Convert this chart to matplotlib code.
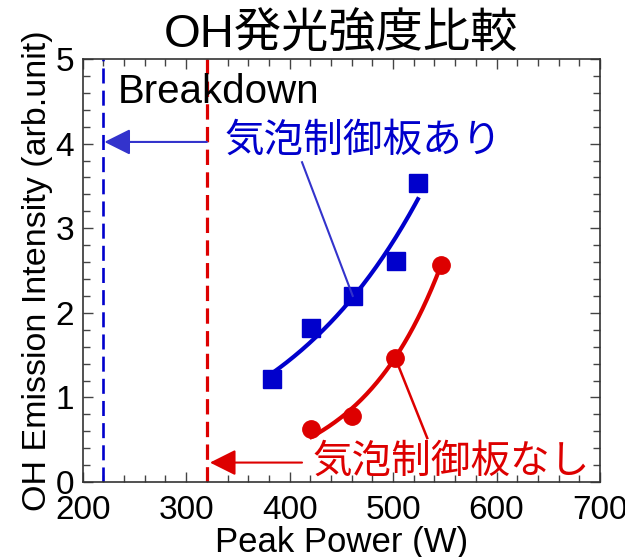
import numpy as np
import matplotlib
matplotlib.use("Agg")
import matplotlib.pyplot as plt
from matplotlib.ticker import MultipleLocator

# ---- data ----
power_with = [383, 421, 461, 503, 524]
oh_with = [1.22, 1.82, 2.20, 2.61, 3.53]
power_without = [421, 460, 502, 546]
oh_without = [0.63, 0.78, 1.47, 2.56]
breakdown_with = 220
breakdown_without = 320
xticks = [200, 300, 400, 500, 600, 700]
yticks = [0, 1, 2, 3, 4, 5]

title = "OH発光強度比較"
xlabel = "Peak Power (W)"
ylabel = "OH Emission Intensity (arb.unit)"
label_with = "気泡制御板あり"
label_without = "気泡制御板なし"

BLUE = "#0000cc"
BLUE2 = "#3333cc"
RED = "#dd0000"

LAT = ["Liberation Sans", "Noto Sans CJK JP", "DejaVu Sans"]
CJK = ["Noto Sans CJK JP", "DejaVu Sans"]
plt.rcParams["font.family"] = LAT


def exp_fit(x, y):
    x = np.asarray(x, float)
    y = np.asarray(y, float)
    b, lna = np.polyfit(x, np.log(y), 1)
    x0 = x.mean()
    a = np.exp(lna) * np.exp(b * x0)
    for _ in range(50):
        e = np.exp(b * (x - x0))
        J = np.column_stack([e, a * (x - x0) * e])
        r = y - a * e
        d, *_ = np.linalg.lstsq(J, r, rcond=None)
        a += d[0]
        b += d[1]
    return lambda t: a * np.exp(b * (np.asarray(t) - x0))


fig = plt.figure(figsize=(6.25, 5.57), dpi=100)
ax = fig.add_axes([0.1323, 0.1346, 0.8277, 0.7594])

ax.set_xlim(200, 700)
ax.set_ylim(0, 5)

# breakdown lines
ax.axvline(breakdown_with, color=BLUE, lw=1.9, ls=(0, (5.7, 2.7)), zorder=2)
ax.axvline(breakdown_without, color=RED, lw=2.3, ls=(0, (4.8, 2.3)), zorder=2)

# fits
fw = exp_fit(power_with, oh_with)
xs = np.linspace(min(power_with), max(power_with), 200)
ax.plot(xs, fw(xs), color=BLUE, lw=3.0, zorder=3)
fo = exp_fit(power_without, oh_without)
xs2 = np.linspace(min(power_without), max(power_without), 200)
ax.plot(xs2, fo(xs2), color=RED, lw=3.0, zorder=3)

ax.plot(power_with, oh_with, ls="none", marker="s", ms=13, color=BLUE,
        mec=BLUE, zorder=4)
ax.plot(power_without, oh_without, ls="none", marker="o", ms=12.5, color=RED,
        mec=RED, zorder=4)

# leader lines
ax.plot([power_with[2], 412], [oh_with[2], 3.78], color=BLUE2, lw=1.5, zorder=5)
ax.plot([power_without[2], 533], [oh_without[2], 0.52], color=RED, lw=1.8, zorder=5)

# arrows
ax.annotate("", xy=(breakdown_with + 1, 4.02), xytext=(breakdown_without, 4.02),
            arrowprops=dict(arrowstyle="-|>,head_length=16,head_width=8",
                            mutation_scale=1, color=BLUE2, lw=1.5,
                            shrinkA=0, shrinkB=0), zorder=5)
ax.annotate("", xy=(breakdown_without + 3, 0.23), xytext=(412, 0.23),
            arrowprops=dict(arrowstyle="-|>,head_length=16,head_width=8",
                            mutation_scale=1, color=RED, lw=1.5,
                            shrinkA=0, shrinkB=0), zorder=5)

# texts
ax.text(234, 4.61, "Breakdown", fontsize=29, family=LAT, ha="left", va="center")
ax.text(337, 4.04, label_with, fontsize=28.5, family=CJK, color=BLUE,
        ha="left", va="center")
ax.text(422, 0.24, label_without, fontsize=28.5, family=CJK, color=RED,
        ha="left", va="center")

ax.set_title(title, fontsize=34, pad=8)
ax.set_xlabel(xlabel, fontsize=25, labelpad=0)
ax.set_ylabel(ylabel, fontsize=24.5, labelpad=2)

ax.set_xticks(xticks)
ax.set_yticks(yticks)
ax.xaxis.set_minor_locator(MultipleLocator(20))
ax.yaxis.set_minor_locator(MultipleLocator(0.2))
ax.tick_params(which="both", direction="in", top=True, right=True,
               labelsize=24, width=1.0, color="#444444")
ax.tick_params(which="major", length=7)
ax.tick_params(which="minor", length=5)
ax.tick_params(axis="x", which="major", pad=9)
ax.tick_params(axis="y", which="major", pad=6)
for s in ax.spines.values():
    s.set_linewidth(1.2)
    s.set_color("#333333")

fig.savefig("out.png", dpi=100)
